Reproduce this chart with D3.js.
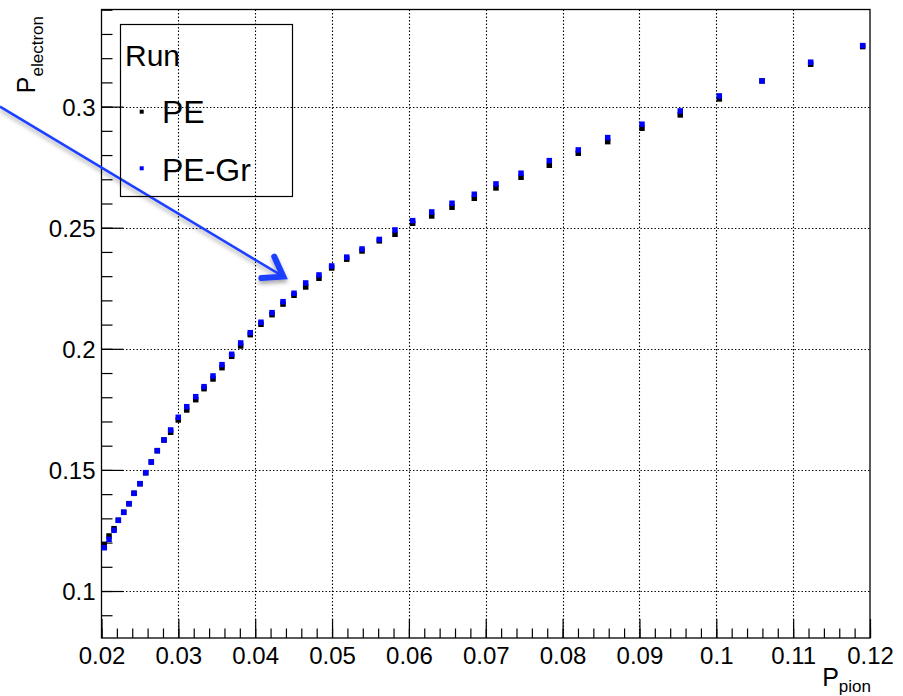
<!DOCTYPE html>
<html>
<head>
<meta charset="utf-8">
<script src="https://cdn.jsdelivr.net/npm/d3@7"></script>
<style>
  html, body { margin: 0; padding: 0; background: #fff; }
  svg { display: block; }
  text { font-family: "Liberation Sans", Arial, Helvetica, sans-serif; fill: #000; }
</style>
</head>
<body>
<svg id="chart" width="903" height="696"></svg>
<script>
// ---- data ----
const pionProb = [0.02036, 0.02098, 0.02163, 0.02219, 0.02289, 0.02358, 0.02423, 0.02501, 0.02575, 0.02648,
  0.02726, 0.02813, 0.02900, 0.02999, 0.03109, 0.03226, 0.03334, 0.03451, 0.03568, 0.03694,
  0.03811, 0.03936, 0.04075, 0.04219, 0.04362, 0.04505, 0.04657, 0.04830, 0.04995, 0.05191,
  0.05390, 0.05615, 0.05819, 0.06049, 0.06297, 0.06561, 0.06851, 0.07133, 0.07459, 0.07827,
  0.08204, 0.08587, 0.09033, 0.09531, 0.10039, 0.10595, 0.11228, 0.11905];

const electronPE = [0.11928, 0.12271, 0.12573, 0.12920, 0.13250, 0.13605, 0.14035, 0.14431, 0.14885, 0.15327,
  0.15794, 0.16236, 0.16554, 0.17062, 0.17475, 0.17900, 0.18354, 0.18755, 0.19222, 0.19692,
  0.20118, 0.20584, 0.21014, 0.21410, 0.21847, 0.22211, 0.22554, 0.22914, 0.23338, 0.23702,
  0.24040, 0.24458, 0.24730, 0.25185, 0.25486, 0.25846, 0.26217, 0.26643, 0.27085, 0.27580,
  0.28076, 0.28555, 0.29108, 0.29657, 0.30318, 0.31061, 0.31751, 0.32478];

const electronPEGr = [0.11788, 0.12135, 0.12507, 0.12920, 0.13250, 0.13605, 0.14035, 0.14431, 0.14885, 0.15327,
  0.15794, 0.16236, 0.16649, 0.17173, 0.17611, 0.18024, 0.18437, 0.18879, 0.19346, 0.19775,
  0.20242, 0.20667, 0.21097, 0.21493, 0.21947, 0.22294, 0.22719, 0.23050, 0.23421, 0.23785,
  0.24123, 0.24516, 0.24908, 0.25292, 0.25651, 0.26011, 0.26382, 0.26808, 0.27250, 0.27770,
  0.28212, 0.28720, 0.29273, 0.29822, 0.30442, 0.31061, 0.31834, 0.32519];

const seriesNames = ["PE", "PE-Gr"];
const legendTitle = "Run";
const xTickValues = [0.02, 0.03, 0.04, 0.05, 0.06, 0.07, 0.08, 0.09, 0.10, 0.11, 0.12];
const xTickLabels = ["0.02", "0.03", "0.04", "0.05", "0.06", "0.07", "0.08", "0.09", "0.1", "0.11", "0.12"];
const yTickValues = [0.10, 0.15, 0.20, 0.25, 0.30];
const yTickLabels = ["0.1", "0.15", "0.2", "0.25", "0.3"];
// annotation arrow (data units): tail, head
const arrowTail = [0.00679, 0.3000];
const arrowHead = [0.04366, 0.2298];

// ---- layout ----
const svg = d3.select("#chart");
const L = 101.5, R = 870, T = 9.5, B = 638;
const x = d3.scaleLinear().domain([0.02, 0.12]).range([L, R]);
const y = d3.scaleLinear().domain([0.0806, 0.3401]).range([B, T]);

svg.append("rect").attr("width", 903).attr("height", 696).attr("fill", "#fff");

// defs: shadow for arrow
const defs = svg.append("defs");
const f = defs.append("filter").attr("id", "shadow").attr("x", "-20%").attr("y", "-20%").attr("width", "140%").attr("height", "160%");
f.append("feDropShadow").attr("dx", 0).attr("dy", 3).attr("stdDeviation", 2)
  .attr("flood-color", "#000").attr("flood-opacity", 0.35);

// grid
const grid = svg.append("g").attr("stroke", "#000").attr("stroke-width", 1.1).attr("stroke-dasharray", "1.4,2.1");
grid.selectAll("line.gx").data(xTickValues.filter(v => v > 0.02 + 1e-9 && v < 0.12 - 1e-9)).enter()
  .append("line").attr("x1", d => Math.round(x(d)) + 0.5).attr("x2", d => Math.round(x(d)) + 0.5)
  .attr("y1", T).attr("y2", B);
grid.selectAll("line.gy").data(yTickValues).enter()
  .append("line").attr("y1", d => Math.round(y(d)) + 0.5).attr("y2", d => Math.round(y(d)) + 0.5)
  .attr("x1", L).attr("x2", R);

// minor ticks
const xMinor = d3.range(0.02, 0.12 + 1e-9, 0.002).map(v => +v.toFixed(4));
const yMinor = d3.range(0.09, 0.3401, 0.01).map(v => +v.toFixed(3));

const gxMinor = svg.append("g").attr("transform", `translate(0,${B})`)
  .call(d3.axisBottom(x).tickValues(xMinor).tickSize(-9.5).tickSizeOuter(0).tickFormat(""));
const gyMinor = svg.append("g").attr("transform", `translate(${L},0)`)
  .call(d3.axisLeft(y).tickValues(yMinor).tickSize(-11).tickSizeOuter(0).tickFormat(""));

// major axes
const gx = svg.append("g").attr("transform", `translate(0,${B})`)
  .call(d3.axisBottom(x).tickValues(xTickValues).tickSize(-19).tickSizeOuter(0).tickPadding(10)
    .tickFormat((d, i) => xTickLabels[i]));
const gy = svg.append("g").attr("transform", `translate(${L},0)`)
  .call(d3.axisLeft(y).tickValues(yTickValues).tickSize(-22).tickSizeOuter(0).tickPadding(6)
    .tickFormat((d, i) => yTickLabels[i]));

[gxMinor, gyMinor, gx, gy].forEach(g => {
  g.select(".domain").remove();
  g.selectAll(".tick line").attr("stroke", "#000").attr("stroke-width", 1.2);
});
[gx, gy].forEach(g => g.selectAll(".tick text")
  .style("font-family", '"Liberation Sans", Arial, Helvetica, sans-serif')
  .style("font-size", "24px").attr("fill", "#000"));
gy.selectAll(".tick text").attr("dy", "0.36em");
gx.selectAll(".tick text").attr("dy", "0.68em");

// frame
svg.append("rect").attr("x", L).attr("y", T).attr("width", R - L).attr("height", B - T)
  .attr("fill", "none").attr("stroke", "#000").attr("stroke-width", 1.3);

// data points
const ms = 5.5;
const series = [
  { name: seriesNames[0], values: electronPE, color: "#000000" },
  { name: seriesNames[1], values: electronPEGr, color: "#0000ff" }
];
series.forEach(s => {
  svg.append("g").selectAll("rect").data(pionProb.map((px, i) => [px, s.values[i]])).enter()
    .append("rect")
    .attr("x", d => x(d[0]) - ms / 2).attr("y", d => y(d[1]) - ms / 2)
    .attr("width", ms).attr("height", ms).attr("fill", s.color);
});

// arrow
const arrowColor = "#1f3fff";
const ag = svg.append("g").attr("filter", "url(#shadow)");
const x0 = x(arrowTail[0]), y0 = y(arrowTail[1]), x1 = x(arrowHead[0]), y1 = y(arrowHead[1]);
ag.append("line").attr("x1", x0).attr("y1", y0).attr("x2", x1 - 2).attr("y2", y1 - 1.2)
  .attr("stroke", arrowColor).attr("stroke-width", 2.5);
const ang = Math.atan2(y1 - y0, x1 - x0);
const wl = 22, wa = Math.PI / 5.2;
const w1 = [x1 - wl * Math.cos(ang - wa), y1 - wl * Math.sin(ang - wa)];
const w2 = [x1 - wl * Math.cos(ang + wa), y1 - wl * Math.sin(ang + wa)];
ag.append("path").attr("d", `M${w1[0]},${w1[1]} L${x1},${y1} L${w2[0]},${w2[1]}`)
  .attr("fill", "none").attr("stroke", arrowColor).attr("stroke-width", 6)
  .attr("stroke-linejoin", "miter").attr("stroke-linecap", "round");

// legend
const lg = svg.append("g");
lg.append("rect").attr("x", 120.5).attr("y", 24.5).attr("width", 172).attr("height", 172)
  .attr("fill", "none").attr("stroke", "#000").attr("stroke-width", 1.2);
lg.append("text").attr("x", 125).attr("y", 65.5).style("font-size", "30px").text(legendTitle);
const legendRows = [{ y: 111.7, base: 123.3 }, { y: 168.3, base: 181.3 }];
series.forEach((s, i) => {
  lg.append("rect").attr("x", 141.7 - 2).attr("y", legendRows[i].y - 2).attr("width", 4).attr("height", 4)
    .attr("fill", s.color);
  lg.append("text").attr("x", 162).attr("y", legendRows[i].base).style("font-size", "32px").text(s.name);
});

// axis titles
const xt = svg.append("text").attr("x", 871).attr("y", 685.5).attr("text-anchor", "end").style("font-size", "25px");
xt.append("tspan").text("P");
xt.append("tspan").attr("dy", 6.5).style("font-size", "17px").text("pion");

const yt = svg.append("text").attr("transform", "translate(35,16) rotate(-90)").attr("text-anchor", "end").style("font-size", "25px");
yt.append("tspan").text("P");
yt.append("tspan").attr("dy", 7.5).style("font-size", "17px").text("electron");
</script>
</body>
</html>
